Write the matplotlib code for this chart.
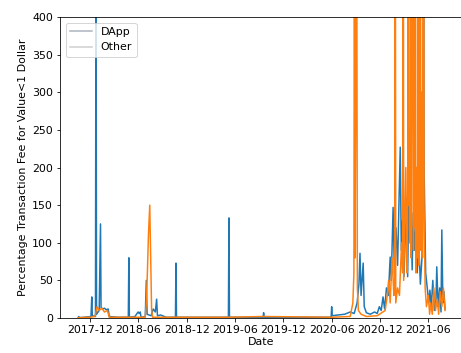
import matplotlib
matplotlib.use("Agg")
import matplotlib.pyplot as plt
import matplotlib.dates as mdates
import numpy as np
import pandas as pd

# --- datos ---
dapp_dates = [
    "2017-10-18", "2017-10-20", "2017-10-22", "2017-11-10", "2017-12-05", "2017-12-08",
    "2017-12-10", "2017-12-22", "2017-12-24", "2017-12-26", "2018-01-05", "2018-01-10",
    "2018-01-12", "2018-01-18", "2018-01-25", "2018-02-01", "2018-02-08", "2018-02-12",
    "2018-03-15", "2018-04-25", "2018-04-27", "2018-04-29", "2018-05-20", "2018-06-01",
    "2018-06-05", "2018-06-09", "2018-06-12", "2018-06-28", "2018-07-02", "2018-07-05",
    "2018-07-20", "2018-07-28", "2018-08-05", "2018-08-10", "2018-08-13", "2018-08-25",
    "2018-09-15", "2018-10-20", "2018-10-22", "2018-10-24", "2019-01-15", "2019-05-08",
    "2019-05-10", "2019-05-12", "2019-09-16", "2019-09-18", "2019-09-20", "2020-02-01",
    "2020-05-30", "2020-06-01", "2020-06-03", "2020-06-25", "2020-07-20", "2020-08-10",
    "2020-08-25", "2020-09-05", "2020-09-12", "2020-09-16", "2020-09-20", "2020-09-28",
    "2020-10-02", "2020-10-10", "2020-10-25", "2020-11-10", "2020-11-20", "2020-11-28",
    "2020-12-05", "2020-12-12", "2020-12-18", "2020-12-25", "2021-01-01", "2021-01-08",
    "2021-01-12", "2021-01-19", "2021-01-24", "2021-01-30", "2021-02-05", "2021-02-10",
    "2021-02-15", "2021-02-19", "2021-02-24", "2021-03-01", "2021-03-06", "2021-03-11",
    "2021-03-15", "2021-03-19", "2021-03-23", "2021-03-27", "2021-04-01", "2021-04-05",
    "2021-04-10", "2021-04-15", "2021-04-20", "2021-04-26", "2021-05-02", "2021-05-08",
    "2021-05-12", "2021-05-14", "2021-05-16", "2021-05-22", "2021-05-28", "2021-06-03",
    "2021-06-07", "2021-06-12", "2021-06-18", "2021-06-24", "2021-06-30", "2021-07-03",
    "2021-07-08", "2021-07-14", "2021-07-19", "2021-07-22", "2021-07-26", "2021-07-30",
    "2021-08-03",
]
dapp_vals = [
    1, 2, 0.5, 1, 2, 28,
    3, 2, 520, 5, 10, 125,
    14, 12, 13, 11, 12, 2,
    1, 1, 80, 1, 2, 8,
    6, 8, 1, 2, 50, 5,
    3, 12, 8, 25, 3, 4,
    1, 1, 73, 1, 1, 1,
    133, 1, 1, 7, 1, 1,
    1, 15, 3, 4, 5, 8,
    6, 20, 45, 86, 30, 73,
    15, 7, 5, 8, 6, 15,
    10, 28, 12, 40, 30, 81,
    50, 147, 60, 120, 70, 150,
    227, 90, 130, 55, 110, 160,
    55, 161, 100, 153, 64, 140,
    90, 125, 60, 100, 45, 80,
    150, 520, 200, 60, 40, 20,
    37, 15, 50, 10, 25, 68,
    15, 40, 8, 117, 20, 35,
    12,
]

other_dates = [
    "2017-10-18", "2017-12-01", "2017-12-20", "2017-12-28", "2018-01-05", "2018-01-15",
    "2018-01-25", "2018-02-05", "2018-02-12", "2018-06-28", "2018-07-02", "2018-07-06",
    "2018-07-10", "2018-07-15", "2018-07-18", "2018-07-22", "2018-07-26", "2019-05-10",
    "2019-09-18", "2020-06-01", "2020-08-10", "2020-08-20", "2020-08-24", "2020-08-26",
    "2020-08-28", "2020-08-31", "2020-09-03", "2020-09-06", "2020-09-10", "2020-09-20",
    "2020-10-10", "2020-11-20", "2020-12-20", "2020-12-28", "2021-01-02", "2021-01-08",
    "2021-01-15", "2021-01-22", "2021-01-25", "2021-01-27", "2021-01-29", "2021-02-05",
    "2021-02-12", "2021-02-20", "2021-02-24", "2021-02-26", "2021-02-28", "2021-03-08",
    "2021-03-12", "2021-03-15", "2021-03-17", "2021-03-19", "2021-03-21", "2021-03-24",
    "2021-03-26", "2021-03-28", "2021-04-01", "2021-04-03", "2021-04-06", "2021-04-09",
    "2021-04-11", "2021-04-13", "2021-04-15", "2021-04-18", "2021-04-22", "2021-04-24",
    "2021-04-26", "2021-05-02", "2021-05-04", "2021-05-07", "2021-05-10", "2021-05-14",
    "2021-05-16", "2021-05-20", "2021-05-25", "2021-06-01", "2021-06-06", "2021-06-10",
    "2021-06-16", "2021-06-22", "2021-06-28", "2021-07-05", "2021-07-10", "2021-07-16",
    "2021-07-22", "2021-07-28", "2021-08-03",
]
other_vals = [
    0.5, 1, 2, 15, 10, 13,
    8, 10, 1, 1, 20, 60,
    110, 150, 90, 10, 1, 1,
    2, 1, 2, 20, 60, 600,
    80, 299, 700, 40, 10, 5,
    2, 3, 10, 30, 50, 20,
    80, 30, 40, 800, 20, 40,
    30, 100, 60, 900, 50, 200,
    60, 120, 800, 150, 250, 100,
    700, 80, 900, 300, 90, 600,
    120, 900, 60, 200, 80, 500,
    70, 900, 90, 300, 80, 1000,
    150, 40, 15, 30, 5, 20,
    5, 40, 10, 25, 5, 35,
    15, 40, 10,
]

# --- figura ---
plt.rcParams["font.size"] = 11
fig = plt.figure(figsize=(461 / 72, 353 / 72), dpi=72)
ax = fig.add_axes([60 / 461, 35 / 353, 403 / 461, 301 / 353])

ax.plot(pd.to_datetime(dapp_dates), dapp_vals, color="C0", lw=1.5, label="DApp")
ax.plot(pd.to_datetime(other_dates), other_vals, color="C1", lw=1.5, label="Other")

ax.set_ylim(0, 400)
ax.set_yticks(np.arange(0, 401, 50))
ax.set_xlim(pd.Timestamp("2017-08-10"), pd.Timestamp("2021-10-10"))
ax.xaxis.set_major_locator(mdates.MonthLocator(bymonth=[6, 12]))
ax.xaxis.set_major_formatter(mdates.DateFormatter("%Y-%m"))

ax.set_xlabel("Date", labelpad=2)
ax.set_ylabel("Percentage Transaction Fee for Value<1 Dollar")

leg = ax.legend(loc="upper left")
# en el original las lineas de la leyenda salen casi grises
for linea, col in zip(leg.get_lines(), ["#a9b3c0", "#cfcfcf"]):
    linea.set_color(col)

fig.savefig("out.png", dpi=72)
